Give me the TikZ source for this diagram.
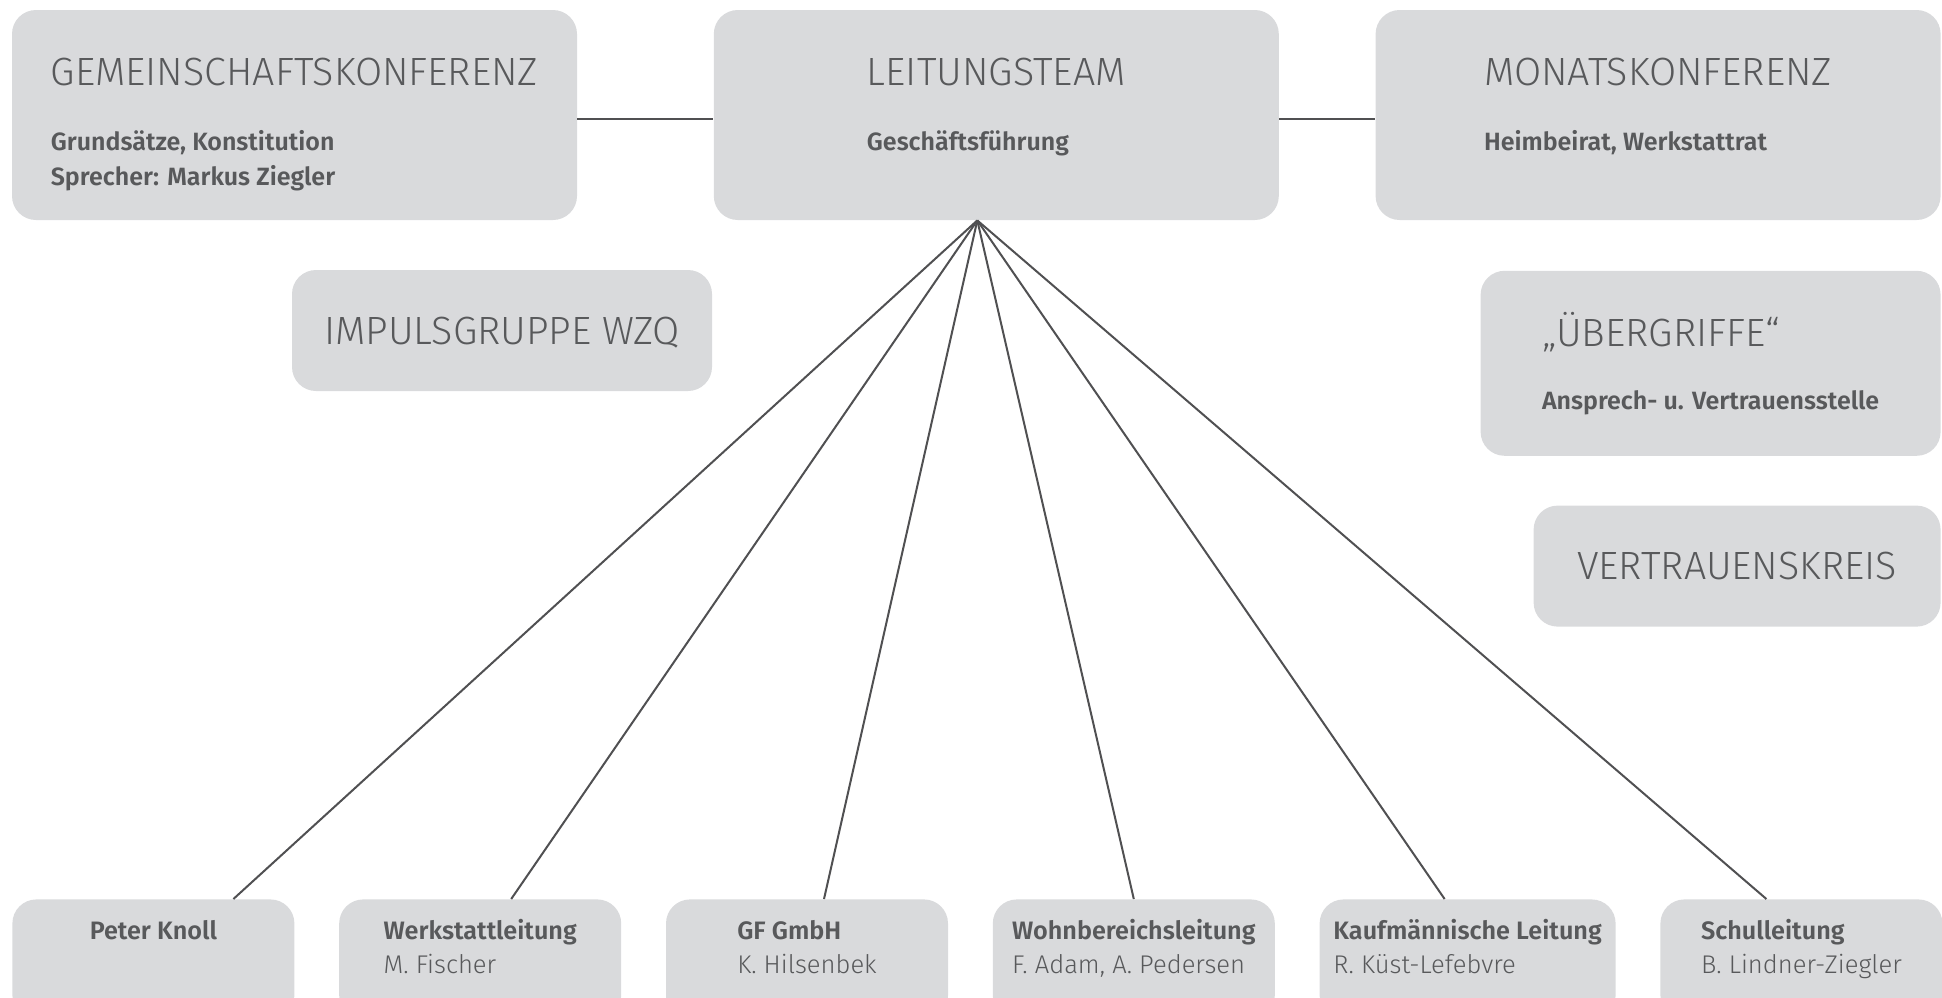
\documentclass[tikz,border=0pt]{standalone}
\usepackage{fontspec}
\setmainfont{Fira Sans}
\newfontfamily\lightfont{Fira Sans Light}
\newfontfamily\boldfont{Fira Sans SemiBold}
\usetikzlibrary{positioning}

\definecolor{boxgrey}{RGB}{217,218,220}
\definecolor{textgrey}{RGB}{88,89,91}
\definecolor{linegrey}{RGB}{80,80,82}

\tikzset{
  box/.style={fill=boxgrey, rounded corners=12pt, inner sep=0pt, text=textgrey},
  topbox/.style={box, minimum width=282.5pt, minimum height=105pt},
  sidebox/.style={box, minimum height=60.5pt, text depth=0pt,
    font=\fontsize{19.7}{24}\selectfont\lightfont},
  unitbox/.style={box, minimum width=141pt, minimum height=60pt},
  boxtext/.style={text=textgrey, align=left, inner sep=0pt, anchor=north,
    font=\fontsize{12.5}{17.5}\selectfont\boldfont},
  unittext/.style={boxtext, font=\fontsize{12.6}{17}\selectfont},
  link/.style={draw=linegrey, line width=1pt},
}
\newcommand\boxtitle[1]{{\fontsize{19.7}{22}\selectfont\lightfont\strut #1}}
\newcommand\unittitle[1]{{\boldfont\strut #1}}
\newcommand\unitname[1]{{\fontsize{12.8}{17}\selectfont\lightfont #1}}

\begin{document}
\begin{tikzpicture}[x=1pt, y=-1pt]
  \useasboundingbox (0,0) rectangle (971,498.5);
  \clip (0,0) rectangle (971,498.5);

  % top row
  \node[topbox] (gk) at (147.25,57.5) {};
  \node[topbox, right=68pt of gk] (lt) {};
  \node[topbox, right=48pt of lt] (mk) {};

  \node[boxtext] (gk-text) at ([yshift=-22.3pt]gk.north)
    {\boxtitle{GEMEINSCHAFTSKONFERENZ}\\[15pt]
     Grundsätze, Konstitution\\
     Sprecher: Markus Ziegler};
  \node[boxtext] (lt-text) at ([yshift=-22.3pt]lt.north)
    {\boxtitle{LEITUNGSTEAM}\\[15pt]
     Geschäftsführung};
  \node[boxtext] (mk-text) at ([yshift=-22.3pt]mk.north)
    {\boxtitle{MONATSKONFERENZ}\\[15pt]
     Heimbeirat, Werkstattrat};

  \draw[link] ([yshift=-2pt]gk.east) -- ([yshift=-2pt]lt.west);
  \draw[link] ([yshift=-2pt]lt.east) -- ([yshift=-2pt]mk.west);

  % side boxes
  \node[sidebox, minimum width=210pt] (ig) at (251,165.25) {IMPULSGRUPPE WZQ};
  \node[box, minimum width=230pt, minimum height=92.5pt,
    below=25pt of mk.south east, anchor=north east] (ub) {};
  \node[boxtext] (ub-text) at ([yshift=-20.5pt]ub.north)
    {\boxtitle{„ÜBERGRIFFE“}\\[14pt]
     Ansprech- u. Vertrauensstelle};
  \node[sidebox, minimum width=203.5pt,
    below=24.5pt of ub.south east, anchor=north east] (vk) {VERTRAUENSKREIS};

  % bottom row
  \node[unitbox, anchor=north west] (pk) at (6,449.5) {};
  \node[unitbox, right=22pt of pk] (wl) {};
  \node[unitbox, right=22pt of wl] (gf) {};
  \node[unitbox, right=22pt of gf] (wb) {};
  \node[unitbox, minimum width=148pt, right=22pt of wb] (kl) {};
  \node[unitbox, right=22pt of kl] (sl) {};

  \node[unittext] (pk-text) at ([yshift=-8pt]pk.north)
    {\unittitle{Peter Knoll}};
  \node[unittext] (wl-text) at ([yshift=-8pt]wl.north)
    {\unittitle{Werkstattleitung}\\ \unitname{M. Fischer}};
  \node[unittext] (gf-text) at ([yshift=-8pt]gf.north)
    {\unittitle{GF GmbH}\\ \unitname{K. Hilsenbek}};
  \node[unittext] (wb-text) at ([yshift=-8pt]wb.north)
    {\unittitle{Wohnbereichsleitung}\\ \unitname{F. Adam, A. Pedersen}};
  \node[unittext] (kl-text) at ([yshift=-8pt]kl.north)
    {\unittitle{Kaufmännische Leitung}\\ \unitname{R. Küst-Lefebvre}};
  \node[unittext] (sl-text) at ([yshift=-8pt]sl.north)
    {\unittitle{Schulleitung}\\ \unitname{B. Lindner-Ziegler}};

  % fan from the Leitungsteam
  \coordinate (fan) at ([xshift=-9.5pt]lt.south);
  \foreach \unit/\shift in {pk/40, wl/15.5, gf/8.5, wb/0, kl/-11.5, sl/-17.5}
    \draw[link] (fan) -- ([xshift=\shift pt]\unit.north);
\end{tikzpicture}
\end{document}
